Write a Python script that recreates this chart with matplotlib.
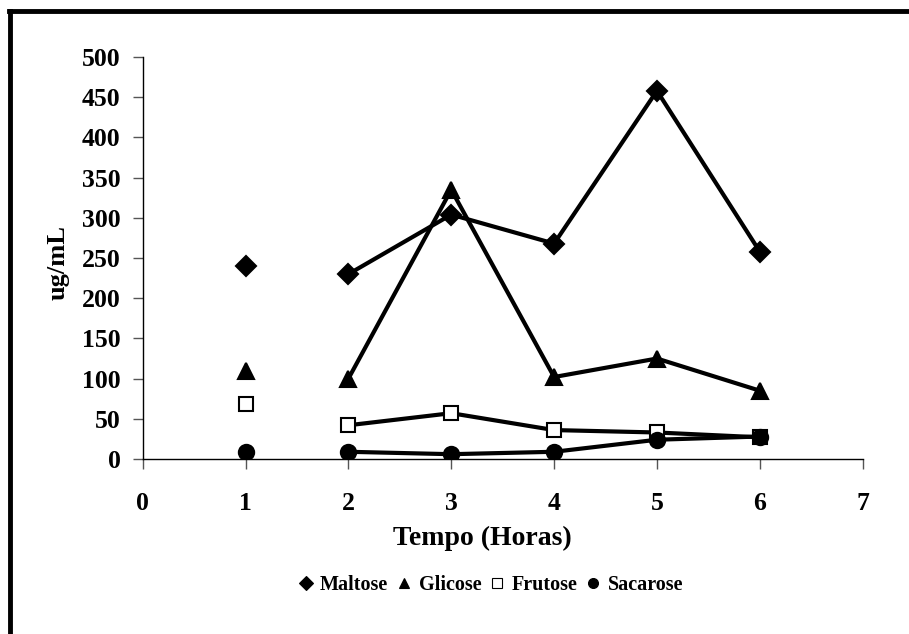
import numpy as np
import matplotlib.pyplot as plt
from matplotlib.lines import Line2D

plt.rcParams['font.family'] = ['Liberation Serif', 'DejaVu Serif']
plt.rcParams['font.weight'] = 'bold'

# data
horas = [1, 2, 3, 4, 5, 6]
maltose = [240, 230, 304, 268, 458, 258]
glicose = [110, 100, 335, 102, 125, 85]
frutose = [69, 42, 57, 36, 33, 27]
sacarose = [9, 9, 6, 9, 24, 28]

series = [
    ("Maltose", maltose, 'D', 'black', 10.5),
    ("Glicose", glicose, '^', 'black', 12),
    ("Frutose", frutose, 's', 'white', 10),
    ("Sacarose", sacarose, 'o', 'black', 11),
]

fig = plt.figure(figsize=(9.09, 6.34), dpi=100)
ax = fig.add_axes([0.157, 0.276, 0.792, 0.634])

for nome, vals, mk, fc, ms in series:
    # hour 1 is a loose point, the line starts at hour 2
    ax.plot(horas[1:], vals[1:], color='black', lw=3, zorder=2)
    ax.plot(horas, vals, linestyle='none', marker=mk, ms=ms,
            markerfacecolor=fc, markeredgecolor='black', markeredgewidth=1.5, zorder=3)

ax.set_xlim(0, 7)
ax.set_ylim(0, 500)
ax.set_xticks(range(0, 8))
ax.set_yticks(range(0, 501, 50))
ax.spines['top'].set_visible(False)
ax.spines['right'].set_visible(False)
ax.spines['left'].set_linewidth(1)
ax.spines['bottom'].set_linewidth(1)
ax.tick_params(axis='both', labelsize=18.5, length=7, width=1, color='#555555')
ax.tick_params(axis='x', pad=17)
ax.tick_params(axis='y', pad=9)
for lbl in ax.get_xticklabels() + ax.get_yticklabels():
    lbl.set_fontweight('bold')

ax.set_xlabel("Tempo (Horas)", fontsize=20, fontweight='bold')
ax.xaxis.set_label_coords((483 - 143) / 720, -(538 - 459) / 402)
ax.set_ylabel("ug/mL", fontsize=19, fontweight='bold')
ax.yaxis.set_label_coords(-(143 - 58) / 720, (459 - 262) / 402)
ax.xaxis.label.set_va('center')
ax.yaxis.label.set_va('center')

handles = [Line2D([], [], linestyle='none', marker=mk, ms=ms * 0.65,
                  markerfacecolor=fc, markeredgecolor='black', markeredgewidth=0.8)
           for nome, vals, mk, fc, ms in series]
fig.legend(handles, [s[0] for s in series], loc='center',
           bbox_to_anchor=(491 / 909, 1 - 585 / 634), ncol=4, frameon=False,
           prop={'size': 14.5, 'weight': 'bold'}, handlelength=0.7, handletextpad=0.35,
           columnspacing=0.45, borderpad=0)

# border of the chart area (only top and left show in the picture)
fig.add_artist(Line2D([10 / 909, 10 / 909], [0, 1 - 11 / 634], color='black', lw=3.5))
fig.add_artist(Line2D([8.5 / 909, 1], [1 - 11 / 634, 1 - 11 / 634], color='black', lw=3.5))

fig.savefig('out.png', dpi=100)
